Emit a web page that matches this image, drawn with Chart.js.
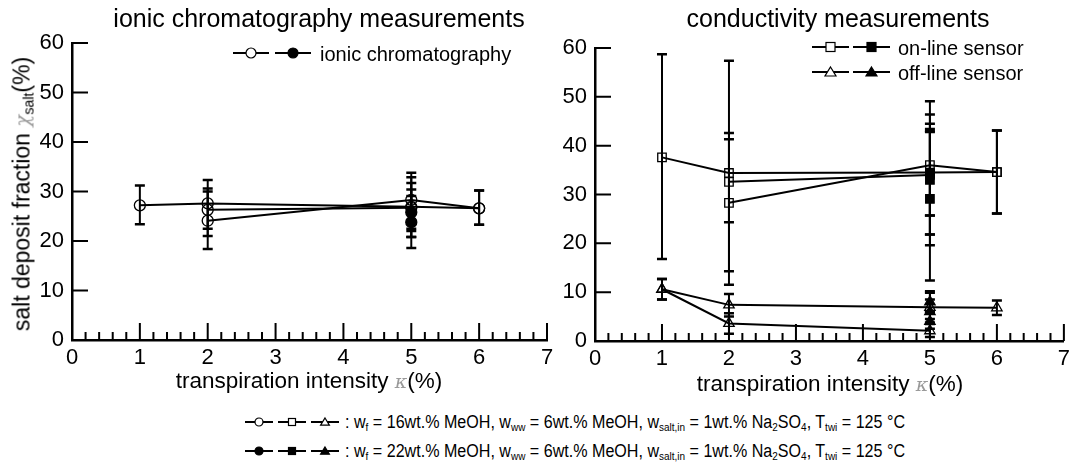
<!DOCTYPE html>
<html><head><meta charset="utf-8">
<script src="https://cdn.jsdelivr.net/npm/chart.js@4.4.0/dist/chart.umd.min.js"></script>
<style>
html,body{margin:0;padding:0;background:#fff;}
body{width:1075px;height:475px;position:relative;overflow:hidden;font-family:"Liberation Sans",Arial,sans-serif;color:#000;}
.abs{position:absolute;white-space:nowrap;line-height:1;}
canvas{position:absolute;}
.gr{color:#9a9a9a;font-family:"DejaVu Serif",serif;font-style:italic;font-size:0.85em;}
sub{font-size:0.62em;vertical-align:-0.3em;line-height:0;}
svg{position:absolute;overflow:visible;}
</style></head><body>
<canvas id="cl" width="560" height="375" style="left:0;top:0"></canvas>
<canvas id="cr" width="535" height="375" style="left:540px;top:0"></canvas>

<div class="abs" style="left:319px;top:6px;font-size:25px;transform:translateX(-50%)">ionic chromatography measurements</div>
<div class="abs" style="left:838px;top:6px;font-size:25px;transform:translateX(-50%)">conductivity measurements</div>
<div class="abs" style="left:22px;top:194px;font-size:23px;transform:translate(-50%,-50%) rotate(-90deg)">salt deposit fraction <span class="gr">χ</span><sub>salt</sub>(%)</div>
<div class="abs" style="left:309px;top:370px;font-size:22.5px;transform:translateX(-50%)">transpiration intensity <span class="gr">κ</span>(%)</div>
<div class="abs" style="left:830px;top:373px;font-size:22.5px;transform:translateX(-50%)">transpiration intensity <span class="gr">κ</span>(%)</div>

<div class="abs" style="left:320px;top:44px;font-size:20px">ionic chromatography</div>
<div class="abs" style="left:898px;top:38px;font-size:20px">on-line sensor</div>
<div class="abs" style="left:898px;top:63px;font-size:20px">off-line sensor</div>

<div id="b1" class="abs" style="left:345px;top:413px;font-size:18px;transform-origin:0 50%">: w<sub>f</sub> = 16wt.% MeOH, w<sub>ww</sub> = 6wt.% MeOH, w<sub>salt,in</sub> = 1wt.% Na<sub>2</sub>SO<sub>4</sub>, T<sub>twi</sub> = 125 °C</div>
<div id="b2" class="abs" style="left:345px;top:442px;font-size:18px;transform-origin:0 50%">: w<sub>f</sub> = 22wt.% MeOH, w<sub>ww</sub> = 6wt.% MeOH, w<sub>salt,in</sub> = 1wt.% Na<sub>2</sub>SO<sub>4</sub>, T<sub>twi</sub> = 125 °C</div>
<div id="syms"></div>

<script>
// ---- axes ----
const xTicks = [0, 1, 2, 3, 4, 5, 6, 7];
const yTicks = [0, 10, 20, 30, 40, 50, 60];

// ---- ionic chromatography: open circles (w_f = 16 wt.%) ----
const icOpen1X = [1, 2, 5, 6];
const icOpen1Y = [27.2, 27.6, 26.9, 26.6];
const icOpen1Lo = [23.4, 21.0, 20.8, 23.3];
const icOpen1Hi = [31.2, 32.3, 33.8, 30.2];
const icOpen2X = [2, 5];
const icOpen2Y = [26.3, 26.7];
const icOpen2Lo = [22.5, 22.5];
const icOpen2Hi = [30.6, 31.7];
const icOpen3X = [2, 5, 6];
const icOpen3Y = [24.1, 28.3, 26.6];
const icOpen3Lo = [18.4, 22.0, 23.3];
const icOpen3Hi = [30.0, 32.9, 30.2];
// filled circles (w_f = 22 wt.%)
const icFilledX = [5, 5];
const icFilledY = [25.8, 23.8];
const icFilledLo = [18.6, 20.8];
const icFilledHi = [30.4, 29.1];

// ---- conductivity: on-line sensor (squares) ----
const onOpen1X = [1, 2, 5, 6];
const onOpen1Y = [37.6, 34.4, 34.5, 34.6];
const onOpen1Lo = [16.8, 11.5, 25.7, 26.1];
const onOpen1Hi = [58.7, 57.4, 43.4, 43.1];
const onOpen2X = [2, 5];
const onOpen2Y = [32.6, 34.0];
const onOpen2Lo = [24.3, 21.8];
const onOpen2Hi = [41.3, 46.4];
const onOpen3X = [2, 5, 6];
const onOpen3Y = [28.3, 36.0, 34.6];
const onOpen3Lo = [14.3, 19.6, 26.1];
const onOpen3Hi = [42.6, 49.1, 43.1];
const onFilledX = [5, 5, 5];
const onFilledY = [34.3, 33.0, 29.1];
const onFilledLo = [12.4, 25.7, 21.8];
const onFilledHi = [44.5, 42.8, 43.0];

// ---- conductivity: off-line sensor (triangles) ----
const offOpen1X = [1, 2, 5, 6];
const offOpen1Y = [10.6, 7.4, 6.9, 6.8];
const offOpen1Lo = [8.5, 5.0, 4.5, 5.3];
const offOpen1Hi = [12.7, 9.6, 9.9, 8.3];
const offOpen2X = [1, 2, 5];
const offOpen2Y = [10.6, 3.6, 2.1];
const offOpen2Lo = [8.5, 1.5, 0.8];
const offOpen2Hi = [12.7, 5.7, 3.5];
const offFilledX = [5, 5, 5];
const offFilledY = [8.0, 6.0, 4.0];
const offFilledLo = [6.0, 3.8, 2.5];
const offFilledHi = [10.2, 8.5, 6.0];

const STYLE = {
  circle: {pointStyle: 'circle', pointRadius: 5.5},
  rect: {pointStyle: 'rect', pointRadius: 6},
  triangle: {pointStyle: 'triangle', pointRadius: 6}
};
function series(xs, ys, lo, hi, shape, filled, line) {
  return Object.assign({
    data: xs.map((x, i) => ({x: x, y: ys[i]})),
    errLo: lo, errHi: hi,
    showLine: line,
    borderColor: '#000', borderWidth: 2,
    pointBorderColor: '#000', pointBorderWidth: 1.3,
    pointBackgroundColor: filled ? '#000' : 'rgba(0,0,0,0)',
    fill: false, tension: 0
  }, STYLE[shape]);
}

const errorBars = {
  id: 'errorBars',
  afterDatasetsDraw(chart) {
    const {ctx, scales: {x, y}} = chart;
    ctx.save();
    ctx.strokeStyle = '#000';
    chart.data.datasets.forEach(ds => {
      if (!ds.errLo) return;
      ds.data.forEach((p, i) => {
        const px = x.getPixelForValue(p.x);
        const pl = y.getPixelForValue(ds.errLo[i]);
        const ph = y.getPixelForValue(ds.errHi[i]);
        ctx.lineWidth = 2;
        ctx.beginPath(); ctx.moveTo(px, pl); ctx.lineTo(px, ph); ctx.stroke();
        ctx.lineWidth = 2.5;
        ctx.beginPath();
        ctx.moveTo(px - 5, pl); ctx.lineTo(px + 5, pl);
        ctx.moveTo(px - 5, ph); ctx.lineTo(px + 5, ph);
        ctx.stroke();
      });
    });
    ctx.restore();
  }
};
const innerTicks = {
  id: 'innerTicks',
  afterDraw(chart) {
    const {ctx, scales: {x, y}, chartArea: a} = chart;
    ctx.save();
    ctx.strokeStyle = '#000'; ctx.lineWidth = 2;
    ctx.beginPath();
    const xmin = xTicks[0], xmax = xTicks[xTicks.length - 1];
    for (let k = 0; k <= (xmax - xmin) * 5; k++) {
      const px = x.getPixelForValue(xmin + k / 5);
      const len = (k % 5 === 0) ? 17 : 8;
      ctx.moveTo(px, a.bottom); ctx.lineTo(px, a.bottom - len);
    }
    yTicks.forEach(v => {
      const py = y.getPixelForValue(v);
      ctx.moveTo(a.left, py); ctx.lineTo(a.left + 16, py);
    });
    ctx.stroke();
    ctx.restore();
  }
};

function makeChart(id, datasets, pad, yW, xH) {
  const font = {family: 'Liberation Sans', size: 22};
  return new Chart(document.getElementById(id), {
    type: 'scatter',
    data: {datasets: datasets},
    options: {
      responsive: false, animation: false, events: [],
      layout: {padding: pad},
      plugins: {legend: {display: false}, tooltip: {enabled: false}},
      scales: {
        x: {
          type: 'linear', min: xTicks[0], max: xTicks[xTicks.length - 1],
          afterBuildTicks: s => { s.ticks = xTicks.map(v => ({value: v})); },
          afterFit: s => { s.height = xH; },
          grid: {display: false, drawTicks: false},
          border: {display: true, color: '#000', width: 2.5},
          ticks: {color: '#000', font: font, padding: 5, maxRotation: 0, autoSkip: false}
        },
        y: {
          type: 'linear', min: yTicks[0], max: yTicks[yTicks.length - 1],
          afterBuildTicks: s => { s.ticks = yTicks.map(v => ({value: v})); },
          afterFit: s => { s.width = yW; },
          grid: {display: false, drawTicks: false},
          border: {display: true, color: '#000', width: 2.5},
          ticks: {color: '#000', font: font, padding: 8, autoSkip: false}
        }
      }
    },
    plugins: [errorBars, innerTicks]
  });
}

makeChart('cl', [
  series(icOpen1X, icOpen1Y, icOpen1Lo, icOpen1Hi, 'circle', false, true),
  series(icOpen2X, icOpen2Y, icOpen2Lo, icOpen2Hi, 'circle', false, true),
  series(icOpen3X, icOpen3Y, icOpen3Lo, icOpen3Hi, 'circle', false, true),
  series(icFilledX, icFilledY, icFilledLo, icFilledHi, 'circle', true, false)
], {left: 32, right: 13, top: 43, bottom: 0}, 40, 35);

makeChart('cr', [
  series(onOpen1X, onOpen1Y, onOpen1Lo, onOpen1Hi, 'rect', false, true),
  series(onOpen2X, onOpen2Y, onOpen2Lo, onOpen2Hi, 'rect', false, true),
  series(onOpen3X, onOpen3Y, onOpen3Lo, onOpen3Hi, 'rect', false, true),
  series(onFilledX, onFilledY, onFilledLo, onFilledHi, 'rect', true, false),
  series(offOpen1X, offOpen1Y, offOpen1Lo, offOpen1Hi, 'triangle', false, true),
  series(offOpen2X, offOpen2Y, offOpen2Lo, offOpen2Hi, 'triangle', false, true),
  series(offFilledX, offFilledY, offFilledLo, offFilledHi, 'triangle', true, false)
], {left: 15, right: 8, top: 48, bottom: 0}, 40, 34);

// ---- legend symbols (line + marker) ----
function sym(left, cy, w, shape, filled, size) {
  const f = filled ? '#000' : '#fff';
  const m = w / 2, r = size;
  let mk = '';
  if (shape === 'circle') mk = `<circle cx="${m}" cy="0" r="${r}" fill="${f}" stroke="#000" stroke-width="1.2"/>`;
  if (shape === 'rect') mk = `<rect x="${m - r}" y="${-r}" width="${2 * r}" height="${2 * r}" fill="${f}" stroke="#000" stroke-width="1.2"/>`;
  if (shape === 'triangle') mk = `<polygon points="${m},${-r} ${m + r * 1.1},${r * 0.8} ${m - r * 1.1},${r * 0.8}" fill="${f}" stroke="#000" stroke-width="1.2"/>`;
  return `<svg width="${w}" height="2" style="left:${left}px;top:${cy}px"><line x1="0" y1="0" x2="${w}" y2="0" stroke="#000" stroke-width="2"/>${mk}</svg>`;
}
let s = '';
s += sym(233, 53, 36, 'circle', false, 5) + sym(275, 53, 36, 'circle', true, 5);
s += sym(812, 47, 37, 'rect', false, 4.5) + sym(853, 47, 37, 'rect', true, 4.5);
s += sym(812, 72, 37, 'triangle', false, 5) + sym(853, 72, 37, 'triangle', true, 5);
s += sym(245, 422, 28, 'circle', false, 4) + sym(278, 422, 28, 'rect', false, 3.5) + sym(311, 422, 28, 'triangle', false, 4);
s += sym(245, 451, 28, 'circle', true, 4) + sym(278, 451, 28, 'rect', true, 3.5) + sym(311, 451, 28, 'triangle', true, 4);
document.getElementById('syms').innerHTML = s;

['b1', 'b2'].forEach(id => {
  const el = document.getElementById(id);
  const w = el.getBoundingClientRect().width;
  el.style.transform = 'scaleX(' + (560 / w) + ')';
});
</script>
</body></html>
